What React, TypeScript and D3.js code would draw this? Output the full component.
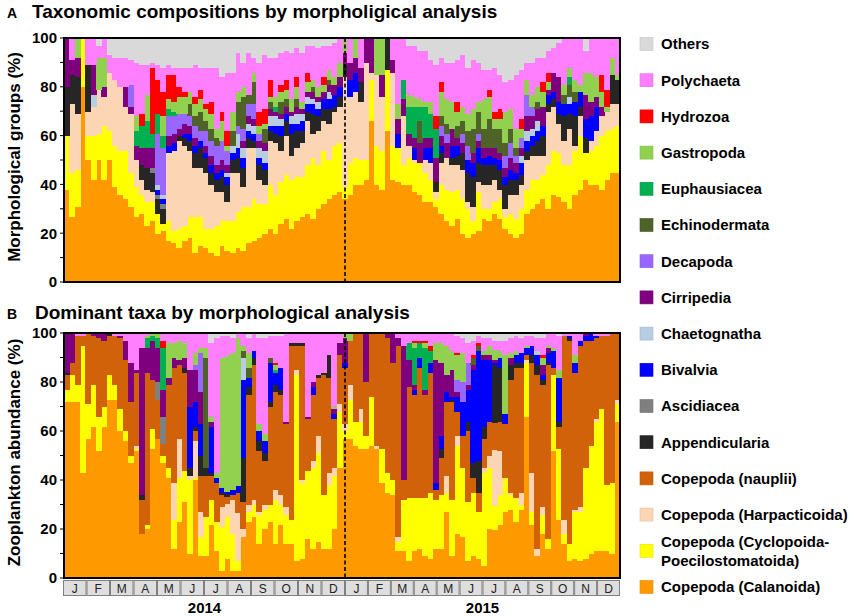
import React, { useEffect, useRef } from 'react';
import * as d3 from 'd3';

// stacking order, bottom to top
const stackKeys = [
  'Calanoida', 'Cyclopoida', 'Harpacticoida', 'nauplii', 'Appendicularia', 'Ascidiacea',
  'Bivalvia', 'Chaetognatha', 'Cirripedia', 'Decapoda', 'Echinodermata', 'Euphausiacea',
  'Gastropoda', 'Hydrozoa', 'Polychaeta', 'Others',
];

const colors: Record<string, string> = {
  Others: '#d9d9d9',
  Polychaeta: '#ff7fff',
  Hydrozoa: '#ff0000',
  Gastropoda: '#92d050',
  Euphausiacea: '#00b050',
  Echinodermata: '#4f6228',
  Decapoda: '#9966ff',
  Cirripedia: '#7f007f',
  Chaetognatha: '#b8cce4',
  Bivalvia: '#0000ff',
  Ascidiacea: '#808080',
  Appendicularia: '#262626',
  nauplii: '#d2620a',
  Harpacticoida: '#fcd5b4',
  Cyclopoida: '#ffff00',
  Calanoida: '#ff9900',
};

// legend, top to bottom
const legendKeys = [
  'Others', 'Polychaeta', 'Hydrozoa', 'Gastropoda', 'Euphausiacea', 'Echinodermata',
  'Decapoda', 'Cirripedia', 'Chaetognatha', 'Bivalvia', 'Ascidiacea', 'Appendicularia',
  'nauplii', 'Harpacticoida', 'Cyclopoida', 'Calanoida',
];
const legendLabels: Record<string, string[]> = {
  Others: ['Others'], Polychaeta: ['Polychaeta'], Hydrozoa: ['Hydrozoa'],
  Gastropoda: ['Gastropoda'], Euphausiacea: ['Euphausiacea'], Echinodermata: ['Echinodermata'],
  Decapoda: ['Decapoda'], Cirripedia: ['Cirripedia'], Chaetognatha: ['Chaetognatha'],
  Bivalvia: ['Bivalvia'], Ascidiacea: ['Ascidiacea'], Appendicularia: ['Appendicularia'],
  nauplii: ['Copepoda (nauplii)'], Harpacticoida: ['Copepoda (Harpacticoida)'],
  Cyclopoida: ['Copepoda (Cyclopoida-', 'Poecilostomatoida)'], Calanoida: ['Copepoda (Calanoida)'],
};

const months = ['J', 'F', 'M', 'A', 'M', 'J', 'J', 'A', 'S', 'O', 'N', 'D'];
const years = ['2014', '2015'];
const yTicks = [0, 20, 40, 60, 80, 100];

// ---- Panel A: morphological groups (%), weekly samples 2014 (52) + 2015 (52)
const aCal = [
  38,27,31,80,50, 42,50,42,50,39, 36,34,31,27,28, 23,25,20,21,17, 16,14,17,18,12, 15,14,12,11,15, 13,12,14,13,16, 17,18,20,22,20, 24,26,22,25,27, 28,26,30,32,34, 36,37,
  34,36,40,40,42, 66,40,38,62,42, 41,40,40,37,36, 33,33,31,28,25, 23,26,20,18,20, 21,26,25,28,26, 22,20,18,20,28, 30,32,34,30,36, 35,33,30,36,38, 42,40,40,38,42, 45,45,
];
const aCyc = [
  22,18,15,20,10, 18,11,22,12,17, 18,20,14,12,8, 10,8,8,3,8, 5,8,6,9,15, 12,8,10,12,10, 12,13,15,18,15, 17,14,12,18,16, 17,18,20,18,16, 20,25,18,22,16, 20,20,
  5,13,11,10,8, 17,16,16,25,14, 14,8,11,12,13, 12,9,3,12,13, 14,12,14,12,5, 16,4,5,5,8, 5,8,8,10,10, 12,10,10,18,18, 18,15,18,18,22, 11,14,16,22,20, 18,19,
];
const aHarp = [
  0,28,23,0,10, 12,18,12,24,27, 26,18,24,11,6, 5,4,0,0,28, 33,36,33,27,20, 20,23,18,14,12, 8,20,16,8,24, 21,10,8,18,21, 13,16,10,12,14, 18,10,14,12,15, 14,15,
  45,27,27,24,40, 3,29,22,0,30, 0,20,5,1,0, 5,7,3,9,13, 11,10,12,3,6, 4,10,10,9,4, 3,8,10,10,12, 10,10,8,22,18, 12,10,15,2,8, 0,4,6,8,8, 10,9,
];
const aApp = [
  20,12,15,0,19, 0,0,0,0,0, 0,0,0,0,6, 9,8,6,6,0, 0,2,3,4,6, 8,6,5,5,6, 7,5,6,8,4, 3,6,6,4,4, 6,6,9,7,5, 4,8,6,5,6, 2,4,
  5,0,0,8,0, 0,0,0,13,0, 0,0,0,0,0, 0,0,4,4,0, 3,4,7,12,12, 8,8,8,6,8, 10,6,6,4,4, 4,6,8,3,3, 4,10,6,12,4, 6,0,0,0,0, 12,10,
];
const aAsc = [
  0,0,0,0,0, 0,0,0,0,0, 0,0,0,0,0, 0,2,2,2,0, 0,0,0,0,0, 0,0,0,0,0, 0,0,0,0,0, 0,0,0,0,0, 0,0,0,0,0, 0,0,0,0,0, 0,0,
  0,0,0,0,0, 0,0,0,0,0, 0,0,0,0,0, 0,0,0,0,0, 0,0,0,0,0, 0,0,0,0,0, 0,0,0,0,0, 0,0,0,0,0, 0,0,0,0,0, 0,0,0,0,0, 0,0,
];
const aBiv = [
  0,0,0,0,0, 0,0,0,0,0, 0,0,0,0,0, 0,0,2,2,3, 3,0,2,3,3, 3,2,3,3,3, 3,3,4,4,3, 3,3,3,2,3, 4,3,4,3,4, 3,4,3,4,4, 5,4,
  0,7,8,0,0, 0,0,0,0,0, 6,0,0,5,0, 5,6,0,3,0, 5,4,0,5,6, 6,3,4,3,4, 3,4,3,5,4, 4,4,4,4,3, 5,5,4,6,6, 8,10,10,0,0, 0,0,
];
const aChae = [
  0,0,0,0,0, 5,0,0,0,0, 0,0,0,0,0, 0,0,2,2,0, 0,0,0,0,0, 0,0,0,0,0, 2,3,6,4,3, 3,4,5,4,4, 3,0,3,4,3, 3,2,3,0,3, 0,0,
  0,0,0,0,0, 0,0,0,0,0, 0,0,0,0,0, 0,0,0,0,0, 0,0,0,0,0, 0,0,0,0,0, 0,0,0,3,4, 3,4,0,0,0, 0,0,3,0,0, 0,0,0,0,0, 0,0,
];
const aCirr = [
  20,6,8,0,0, 12,0,4,0,0, 0,8,3,6,7, 8,8,0,0,4, 4,3,4,3,3, 0,3,4,3,4, 3,0,0,3,3, 3,3,3,3,2, 2,3,2,3,2, 2,3,2,3,3, 4,4,
  5,7,6,6,10, 14,0,9,0,5, 6,7,5,4,8, 4,4,10,4,6, 7,3,4,0,4, 3,4,3,4,3, 4,5,4,3,6, 5,5,8,2,8, 10,0,0,0,0, 10,6,4,4,0, 0,0,
];
const aDec = [
  0,0,0,0,0, 0,0,0,0,0, 0,0,9,0,0, 0,0,21,19,8, 7,6,4,4,5, 4,6,6,8,8, 6,0,3,5,5, 6,3,0,0,0, 0,0,0,0,0, 0,0,0,0,0, 0,0,
  0,0,0,0,0, 0,0,0,0,0, 0,0,0,0,0, 0,0,0,4,4, 0,0,4,6,0, 3,0,0,0,0, 5,6,3,4,9, 4,0,0,0,0, 0,0,0,0,0, 0,0,0,0,0, 0,0,
];
const aEchi = [
  0,0,0,0,0, 0,0,0,0,0, 0,0,0,0,0, 0,0,0,0,0, 0,0,0,5,4, 8,4,5,3,0, 0,6,10,13,4, 9,0,6,3,0, 5,3,0,3,0, 0,2,0,0,2, 0,0,
  0,0,0,0,0, 0,0,0,0,0, 0,0,0,0,9, 0,0,0,4,4, 0,5,5,6,10, 9,8,12,8,10, 5,6,3,0,0, 0,3,0,0,0, 0,4,5,4,0, 0,0,0,0,0, 0,0,
];
const aEuph = [
  0,0,0,0,0, 0,0,0,0,0, 0,0,0,6,9, 11,6,8,5,3, 2,0,0,0,0, 0,0,0,0,0, 0,0,0,0,0, 0,0,0,0,2, 0,0,0,0,0, 0,0,0,0,0, 0,0,
  0,0,0,0,0, 0,0,0,0,0, 0,8,11,13,6, 13,10,12,0,0, 0,0,0,0,0, 0,0,0,0,0, 0,0,0,0,0, 0,0,0,0,0, 0,0,3,0,0, 0,0,0,0,0, 0,0,
];
const aGast = [
  0,0,8,0,0, 0,13,12,0,0, 0,0,0,6,0, 11,0,0,8,4, 4,7,7,5,5, 5,5,6,4,8, 2,8,4,4,0, 4,3,2,2,4, 4,4,5,5,3, 4,3,4,3,4, 3,6,
  6,0,8,0,0, 0,15,15,0,0, 6,0,5,4,3, 2,5,0,10,10, 11,6,6,7,8, 4,12,9,4,4, 13,8,8,4,6, 5,6,6,3,0, 0,4,4,5,3, 9,12,8,6,2, 7,2,
];
const aHydro = [
  0,0,0,0,0, 0,0,0,0,0, 0,0,0,0,5, 0,27,14,10,10, 11,4,2,0,3, 4,2,5,0,4, 6,0,0,0,0, 0,6,6,7,0, 3,4,0,4,0, 4,0,0,3,0, 0,0,
  0,0,0,0,0, 0,0,0,0,0, 0,0,0,0,0, 0,0,5,4,0, 0,4,0,0,0, 0,0,3,3,4, 0,0,0,4,0, 0,0,4,4,0, 0,0,0,0,0, 0,0,0,7,7, 0,0,
];
const aPoly = [
  0,9,0,0,11, 11,5,8,7,9, 12,12,10,22,20, 12,2,6,10,4, 3,8,10,10,13, 9,15,14,25,14, 24,16,16,10,17, 6,20,22,9,16, 13,12,19,12,20, 11,14,16,13,10, 14,10,
  0,10,0,12,0, 0,0,0,0,9, 27,17,20,21,20, 21,17,21,10,15, 16,17,21,19,20, 16,12,8,18,14, 12,12,22,20,7, 13,12,10,9,10, 14,19,12,17,19, 9,14,16,15,21, 8,15,
];
const aOth = [
  0,0,0,0,0, 0,3,0,7,8, 8,8,9,10,11, 11,10,11,12,11, 12,12,12,12,11, 12,12,12,12,16, 14,14,6,10,6, 8,10,7,8,8, 6,5,6,4,6, 3,3,4,3,3, 2,0,
  0,0,0,0,0, 0,0,0,0,0, 0,0,3,3,5, 5,9,11,8,10, 10,9,7,12,9, 10,13,13,12,15, 18,17,15,13,10, 10,8,8,5,4, 2,0,0,0,0, 5,0,0,0,0, 0,0,
];

// ---- Panel B: zooplankton abundance (%)
const bCal = [
  72,72,72,43,57, 62,52,62,73,73, 60,56,47,52,18, 20,53,57,47,41, 12,23,31,10,40, 9,9,22,11,3, 8,3,3,17,23, 25,14,20,23,14, 22,14,14,7,8, 16,12,15,12,12, 20,45,
  57,57,54,53,53, 54,53,39,35,34, 11,11,7,11,12, 9,8,12,12,27, 9,18,17,7,9, 8,5,20,20,22, 27,28,23,28,66, 22,9,18,12,52, 24,14,7,8,7, 8,10,11,11,11, 10,64,
];
const bCyc = [
  5,11,7,52,14, 17,14,8,10,6, 9,4,3,1,0, 2,8,0,3,4, 12,18,13,30,1, 8,16,10,12,18, 17,15,4,0,4, 5,12,8,7,18, 8,12,10,76,31, 28,33,36,22,26, 22,23,
  3,16,10,11,5, 20,0,14,8,6, 4,21,26,22,21, 24,27,20,22,8, 23,36,28,24,26, 19,38,25,10,12, 14,6,10,2,22, 5,0,8,4,31, 29,4,7,19,20, 37,44,53,58,27, 29,7,
];
const bHarp = [
  0,0,0,0,0, 0,0,0,0,0, 0,0,0,1,0, 0,0,0,0,0, 15,16,0,2,15, 10,0,0,0,8, 5,14,20,3,3, 2,1,2,0,4, 4,3,0,2,1, 0,3,7,0,5, 3,3,
  3,6,0,5,0, 0,1,0,0,0, 2,0,0,0,0, 0,0,0,0,7, 0,4,0,0,0, 0,2,5,23,18, 0,1,0,5,1, 16,3,3,0,0, 0,6,0,1,2, 0,0,1,0,0, 0,2,
];
const bNau = [
  6,5,20,4,29, 20,32,27,16,20, 29,29,22,30,14, 62,20,16,5,34, 47,30,40,0,4, 15,17,10,16,5, 3,2,8,11,45, 55,25,18,40,40, 41,34,71,10,55, 21,27,24,49,39, 20,20,
  23,18,36,31,22, 26,46,47,55,48, 78,8,45,42,53, 42,49,4,15,30, 40,10,13,29,6, 8,12,14,11,12, 22,46,53,51,2, 45,71,50,71,3, 9,75,83,56,66, 52,43,33,30,61, 61,27,
];
const bApp = [
  1,0,0,0,0, 0,0,0,1,0, 0,0,0,0,2, 0,0,0,0,0, 0,0,2,3,2, 8,3,1,0,1, 1,0,0,18,3, 3,4,3,2,3, 2,0,1,1,1, 0,0,1,1,9, 0,0,
  0,0,0,0,0, 0,0,0,0,0, 0,0,0,0,0, 0,0,0,4,0, 1,0,0,4,6, 13,5,0,24,22, 0,6,2,2,0, 3,4,2,1,0, 2,0,1,0,0, 0,0,0,0,0, 0,0,
];
const bAsc = [
  0,0,0,0,0, 0,0,0,0,0, 0,0,0,0,0, 0,0,7,11,0, 0,0,0,0,0, 0,0,0,0,0, 0,0,0,0,0, 0,0,0,0,0, 0,0,0,0,0, 0,0,0,0,0, 0,0,
  0,0,0,0,0, 0,0,0,0,0, 0,0,0,0,0, 0,0,0,0,0, 0,0,0,0,0, 0,0,0,0,0, 0,0,0,0,0, 0,0,0,0,0, 0,0,0,0,0, 0,0,0,0,0, 0,0,
];
const bBiv = [
  0,0,0,0,0, 0,0,0,0,0, 0,0,0,0,0, 0,0,0,0,0, 0,0,0,25,10, 13,0,19,2,2, 1,2,3,32,4, 3,4,5,16,5, 9,0,0,0,0, 0,3,0,0,0, 2,0,
  2,0,0,0,0, 0,0,0,0,0, 0,0,0,2,4, 0,4,3,5,4, 1,6,14,13,38, 45,27,25,1,4, 4,0,3,4,3, 4,4,2,4,7, 18,0,1,4,2, 2,3,1,0,0, 0,0,
];
const bChae = [
  0,0,0,0,0, 0,0,0,0,0, 0,0,0,0,0, 0,0,0,0,0, 0,0,0,0,0, 0,0,0,0,0, 0,0,0,9,0, 0,0,0,0,0, 0,0,0,0,0, 0,0,0,0,0, 0,0,
  0,0,0,0,0, 0,0,0,0,0, 0,0,0,0,0, 0,0,0,0,0, 0,0,0,0,0, 0,0,0,0,0, 0,0,0,0,0, 0,2,0,0,0, 0,0,0,0,0, 0,0,0,0,0, 0,0,
];
const bCirr = [
  16,12,0,0,0, 1,2,3,0,0, 1,8,16,1,60, 10,16,14,11,3, 4,2,4,15,13, 13,0,2,0,0, 0,0,0,0,0, 0,0,0,0,0, 0,1,0,0,0, 1,2,0,0,0, 2,5,
  10,0,0,0,20, 0,0,0,2,12, 3,55,11,2,0, 2,0,50,30,7, 11,2,0,2,2, 0,2,2,1,0, 0,3,0,0,0, 0,0,4,2,0, 0,0,0,0,0, 1,0,0,0,0, 0,0,
];
const bDec = [
  0,0,0,0,0, 0,0,0,0,0, 0,0,0,0,0, 0,0,0,0,0, 0,0,0,0,2, 16,0,0,0,0, 0,0,0,0,0, 0,0,0,0,0, 0,0,0,0,0, 0,0,0,0,0, 0,0,
  0,0,0,0,0, 0,0,0,0,0, 0,0,0,0,0, 0,0,0,0,0, 0,5,8,9,0, 0,0,0,0,0, 0,0,0,0,0, 0,0,0,0,0, 0,0,0,0,0, 0,0,0,0,0, 0,0,
];
const bEchi = [
  0,0,0,0,0, 0,0,0,0,0, 0,0,0,0,0, 0,0,0,0,0, 0,0,0,0,0, 0,45,0,0,0, 0,0,0,3,4, 0,0,0,2,0, 0,0,0,0,0, 0,0,0,0,0, 0,0,
  0,0,0,0,0, 0,0,0,0,0, 0,0,0,0,0, 0,0,0,0,0, 0,0,0,0,3, 2,0,0,0,0, 0,0,0,0,0, 0,0,0,0,0, 0,0,0,0,0, 0,0,0,0,0, 0,0,
];
const bEuph = [
  0,0,0,0,0, 0,0,0,0,0, 0,0,0,0,0, 4,2,4,17,0, 0,0,0,0,0, 0,0,0,0,0, 0,0,0,0,0, 0,0,0,0,1, 0,0,0,0,0, 0,0,0,0,0, 0,0,
  0,0,0,0,0, 0,0,0,0,0, 0,0,7,15,6, 17,5,0,0,0, 0,0,0,0,0, 0,0,0,0,0, 0,0,0,0,0, 0,0,0,0,0, 0,0,0,0,0, 0,0,0,0,0, 0,0,
];
const bGast = [
  0,0,0,0,0, 0,0,0,0,0, 0,0,0,0,0, 1,1,2,0,14, 6,8,6,0,5, 2,4,2,2,53, 55,56,61,2,6, 0,3,3,0,2, 0,0,0,0,0, 0,0,0,0,0, 1,0,
  2,3,0,0,0, 0,0,0,0,0, 0,0,0,2,0, 2,0,7,8,12, 8,10,12,0,0, 0,2,4,4,3, 24,2,2,0,1, 0,0,3,1,1, 3,0,0,3,0, 0,0,0,0,0, 0,0,
];
const bHydro = [
  0,0,0,0,0, 0,0,0,0,0, 0,0,0,0,0, 0,0,0,3,0, 0,0,0,0,0, 0,0,0,0,0, 0,0,0,0,0, 0,0,0,0,1, 0,0,0,0,0, 0,0,0,0,0, 0,0,
  0,0,0,0,0, 0,0,0,0,0, 0,0,0,1,1, 1,2,0,0,0, 0,1,0,0,1, 1,0,0,0,0, 0,0,0,0,0, 0,0,1,0,0, 0,0,0,0,0, 0,0,0,0,0, 0,0,
];
const bPoly = [
  0,0,1,1,0, 0,0,0,0,1, 1,3,12,15,6, 1,0,0,3,4, 4,3,4,15,8, 6,6,30,55,9, 8,6,2,5,6, 7,35,39,9,11, 13,36,4,4,4, 34,20,17,16,9, 30,4,
  0,0,0,0,0, 0,0,0,0,0, 2,5,4,3,3, 3,5,4,4,5, 7,7,6,8,6, 3,5,3,4,4, 6,6,6,6,4, 4,5,7,5,6, 14,1,1,9,3, 0,0,1,1,1, 0,0,
];
const bOth = [
  0,0,0,0,0, 0,0,0,0,0, 0,0,0,0,0, 0,0,0,0,0, 0,0,0,0,0, 0,0,4,2,1, 1,2,0,0,2, 0,2,2,1,1, 1,0,0,0,0, 0,0,0,0,0, 0,0,
  0,0,0,0,0, 0,0,0,0,0, 0,0,0,0,0, 0,0,0,0,0, 0,1,2,4,3, 1,2,2,3,3, 3,2,1,2,1, 1,2,2,0,0, 1,0,0,0,0, 0,0,0,0,0, 0,0,
];

const panelA: Record<string, number[]> = {
  Calanoida: aCal, Cyclopoida: aCyc, Harpacticoida: aHarp, Appendicularia: aApp, Ascidiacea: aAsc,
  Bivalvia: aBiv, Chaetognatha: aChae, Cirripedia: aCirr, Decapoda: aDec, Echinodermata: aEchi,
  Euphausiacea: aEuph, Gastropoda: aGast, Hydrozoa: aHydro, Polychaeta: aPoly, Others: aOth,
};
const panelB: Record<string, number[]> = {
  Calanoida: bCal, Cyclopoida: bCyc, Harpacticoida: bHarp, nauplii: bNau, Appendicularia: bApp,
  Ascidiacea: bAsc, Bivalvia: bBiv, Chaetognatha: bChae, Cirripedia: bCirr, Decapoda: bDec,
  Echinodermata: bEchi, Euphausiacea: bEuph, Gastropoda: bGast, Hydrozoa: bHydro, Polychaeta: bPoly,
  Others: bOth,
};

const FONT = '"Liberation Sans", Arial, Helvetica, sans-serif';
const N = 104;

const App: React.FC = () => {
  const svgRef = useRef<SVGSVGElement>(null);

  useEffect(() => {
    const svg = d3.select(svgRef.current);
    svg.selectAll('*').remove();

    const left = 64;
    const right = 620;
    const yearSplit = 345;

    const x = d3.scaleBand<number>().domain(d3.range(N)).range([left, right]).padding(0);

    const drawPanel = (
      series: Record<string, number[]>, top: number, bottom: number,
      letter: string, title: string, yTitle: string, titleY: number, titleX: number,
    ) => {
      const keys = stackKeys.filter(k => series[k]);
      const rows = d3.range(N).map(i => {
        const r: Record<string, number> = {};
        keys.forEach(k => { r[k] = series[k][i] ?? 0; });
        return r;
      });
      const stacked = d3.stack<Record<string, number>>().keys(keys).offset(d3.stackOffsetExpand)(rows);
      const y = d3.scaleLinear().domain([0, 1]).range([bottom, top]);

      // bars drawn edge to edge, snapped to whole pixels so no seams appear
      svg.append('g')
        .attr('shape-rendering', 'crispEdges')
        .selectAll('g.layer')
        .data(stacked)
        .join('g')
        .attr('class', 'layer')
        .attr('fill', d => colors[d.key])
        .selectAll('rect')
        .data(d => d.map((v, i) => ({ v, i })).filter(e => e.v[1] - e.v[0] > 0.0001))
        .join('rect')
        .attr('x', e => x(e.i)!)
        .attr('y', e => y(e.v[1]))
        .attr('width', x.bandwidth() + 0.6)
        .attr('height', e => y(e.v[0]) - y(e.v[1]) + 0.4);

      // dashed year separator
      svg.append('line')
        .attr('x1', yearSplit).attr('x2', yearSplit)
        .attr('y1', top).attr('y2', bottom)
        .attr('stroke', '#000')
        .attr('stroke-width', 1.6)
        .attr('stroke-dasharray', '4,2.5');

      // frame
      svg.append('rect')
        .attr('x', left).attr('y', top)
        .attr('width', right - left).attr('height', bottom - top)
        .attr('fill', 'none')
        .attr('stroke', '#000')
        .attr('stroke-width', 2);

      // minor ticks every 10
      const yPct = d3.scaleLinear().domain([0, 100]).range([bottom, top]);
      svg.append('g')
        .selectAll('line')
        .data(d3.range(0, 101, 10))
        .join('line')
        .attr('x1', left - 4).attr('x2', left)
        .attr('y1', d => yPct(d)).attr('y2', d => yPct(d))
        .attr('stroke', '#000')
        .attr('stroke-width', 1);

      svg.append('g')
        .selectAll('text')
        .data(yTicks)
        .join('text')
        .attr('x', 57)
        .attr('y', d => yPct(d))
        .attr('dy', '0.36em')
        .attr('text-anchor', 'end')
        .style('font-family', FONT)
        .style('font-weight', 'bold')
        .style('font-size', '15px')
        .text(d => d);

      svg.append('text')
        .attr('transform', `translate(20,${(top + bottom) / 2 - 3}) rotate(-90)`)
        .attr('text-anchor', 'middle')
        .style('font-family', FONT)
        .style('font-weight', 'bold')
        .style('font-size', '17px')
        .text(yTitle);

      svg.append('text')
        .attr('x', 7).attr('y', titleY)
        .style('font-family', FONT)
        .style('font-weight', 'bold')
        .style('font-size', '14px')
        .text(letter);

      svg.append('text')
        .attr('x', titleX).attr('y', titleY)
        .style('font-family', FONT)
        .style('font-weight', 'bold')
        .style('font-size', '19px')
        .text(title);
    };

    drawPanel(panelA, 38, 282, 'A', 'Taxonomic compositions by morpholigical analysis',
      'Morphological groups (%)', 18, 32);
    drawPanel(panelB, 333, 578, 'B', 'Dominant taxa by morphological analysis',
      'Zooplankton abundance (%)', 319, 35);

    // month boxes
    const monthCells = years.flatMap((yr, yi) => {
      const x0 = yi === 0 ? left - 1 : yearSplit;
      const x1 = yi === 0 ? yearSplit : right;
      const band = d3.scaleBand<number>().domain(d3.range(12)).range([x0, x1]);
      return months.map((m, mi) => ({ m, x: band(mi)!, w: band.bandwidth() }));
    });
    const mg = svg.append('g');
    mg.selectAll('rect')
      .data(monthCells)
      .join('rect')
      .attr('x', d => d.x + 0.5)
      .attr('y', 580.5)
      .attr('width', d => d.w - 1)
      .attr('height', 15)
      .attr('fill', '#dedede')
      .attr('stroke', '#808080')
      .attr('stroke-width', 1);
    mg.selectAll('text')
      .data(monthCells)
      .join('text')
      .attr('x', d => d.x + d.w / 2)
      .attr('y', 592.5)
      .attr('text-anchor', 'middle')
      .style('font-family', FONT)
      .style('font-size', '12px')
      .style('fill', '#222')
      .text(d => d.m);

    svg.append('g')
      .selectAll('text')
      .data(years)
      .join('text')
      .attr('x', (d, i) => (i === 0 ? (left + yearSplit) / 2 : (yearSplit + right) / 2))
      .attr('y', 613)
      .attr('text-anchor', 'middle')
      .style('font-family', FONT)
      .style('font-weight', 'bold')
      .style('font-size', '15px')
      .text(d => d);

    // legend
    const ly = d3.scalePoint<string>().domain(legendKeys).range([44, 587]);
    const lg = svg.append('g')
      .selectAll('g')
      .data(legendKeys)
      .join('g')
      .attr('transform', d => `translate(640,${ly(d)})`);
    lg.append('rect')
      .attr('x', 0).attr('y', -6.5)
      .attr('width', 13).attr('height', 13)
      .attr('fill', d => colors[d])
      .attr('stroke', d => d3.color(colors[d])!.darker(0.3).formatHex())
      .attr('stroke-width', 0.6);
    lg.append('text')
      .attr('x', 21)
      .style('font-family', FONT)
      .style('font-weight', 'bold')
      .style('font-size', '15px')
      .selectAll('tspan')
      .data(d => legendLabels[d].map((t, i, arr) => ({ t, i, n: arr.length })))
      .join('tspan')
      .attr('x', 21)
      .attr('y', l => (l.i - (l.n - 1) / 2) * 19)
      .attr('dy', '0.36em')
      .text(l => l.t);
  }, []);

  return (
    <svg
      ref={svgRef}
      width={854}
      height={616}
      style={{ position: 'absolute', left: 0, top: 0, background: '#fff' }}
    />
  );
};

export default App;
